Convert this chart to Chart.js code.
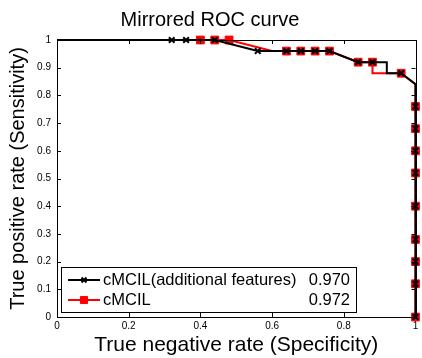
<!DOCTYPE html>
<html>
<head>
<meta charset="utf-8">
<script src="https://cdn.jsdelivr.net/npm/chart.js@4/dist/chart.umd.min.js"></script>
<style>
  html, body { margin: 0; padding: 0; background: #fff; }
  #wrap { width: 422px; height: 358px; }
</style>
</head>
<body>
<div id="wrap"><canvas id="roc"></canvas></div>
<script>
// ─── datos del ROC ───────────────────────────────────────────
const titulo = 'Mirrored ROC curve';
const ejeX = 'True negative rate (Specificity)';
const ejeY = 'True positive rate (Sensitivity)';
const xTicks = [0, 0.2, 0.4, 0.6, 0.8, 1];
const yTicks = [0, 0.1, 0.2, 0.3, 0.4, 0.5, 0.6, 0.7, 0.8, 0.9, 1];

const nombres = ['cMCIL(additional features)', 'cMCIL'];
const auc = ['0.970', '0.972'];

// curva con rasgos adicionales (negro)
const negroX = [0, 0.32, 0.36, 0.44, 0.56, 0.64, 0.68, 0.72, 0.76, 0.84, 0.88, 0.92, 0.92, 0.96, 1, 1, 1, 1, 1, 1, 1, 1, 1, 1];
const negroY = [1, 1, 1, 1, 0.96, 0.96, 0.96, 0.96, 0.96, 0.92, 0.92, 0.92, 0.88, 0.88, 0.84, 0.76, 0.68, 0.6, 0.52, 0.4, 0.28, 0.2, 0.12, 0];
const negroSinMarca = [0, 11, 12, 14]; // vértices sin marcador

// curva cMCIL (rojo)
const rojoX = [0, 0.40, 0.44, 0.48, 0.60, 0.64, 0.68, 0.72, 0.76, 0.84, 0.88, 0.88, 0.96, 1, 1, 1, 1, 1, 1, 1, 1, 1, 1];
const rojoY = [1, 1, 1, 1, 0.96, 0.96, 0.96, 0.96, 0.96, 0.92, 0.92, 0.88, 0.88, 0.84, 0.76, 0.68, 0.6, 0.52, 0.4, 0.28, 0.2, 0.12, 0];
const rojoSinMarca = [0, 4, 11, 13];

const FONT = "'Liberation Sans', Arial, sans-serif";

const pts = (xs, ys) => xs.map((x, i) => ({ x, y: ys[i] }));
const radios = (xs, sin, r) => xs.map((_, i) => sin.includes(i) ? 0 : r);

// ticks hacia adentro + caja completa (estilo MATLAB)
const cajaMatlab = {
  id: 'cajaMatlab',
  afterDatasetsDraw(chart) {
    const { ctx, chartArea: a, scales } = chart;
    ctx.save();
    ctx.strokeStyle = '#000';
    ctx.lineWidth = 1;
    ctx.beginPath();
    xTicks.forEach(v => {
      const px = Math.round(scales.x.getPixelForValue(v)) + 0.5;
      ctx.moveTo(px, a.bottom); ctx.lineTo(px, a.bottom - 4);
      ctx.moveTo(px, a.top); ctx.lineTo(px, a.top + 4);
    });
    yTicks.forEach(v => {
      const py = Math.round(scales.y.getPixelForValue(v)) + 0.5;
      ctx.moveTo(a.left, py); ctx.lineTo(a.left + 4, py);
      ctx.moveTo(a.right, py); ctx.lineTo(a.right - 4, py);
    });
    ctx.stroke();
    ctx.strokeRect(Math.round(a.left) + 0.5, Math.round(a.top) + 0.5, Math.round(a.right - a.left), Math.round(a.bottom - a.top));
    ctx.restore();
  }
};

// leyenda con el AUC alineado a la derecha
const leyenda = {
  id: 'leyenda',
  afterDraw(chart) {
    const { ctx, chartArea: a } = chart;
    const x0 = a.left + 4, y0 = 267, w = 295, h = 45;
    ctx.save();
    ctx.fillStyle = '#fff';
    ctx.fillRect(x0, y0, w, h);
    ctx.strokeStyle = '#000';
    ctx.lineWidth = 1;
    ctx.strokeRect(x0 + 0.5, y0 + 0.5, w, h);
    ctx.font = '16.5px ' + FONT;
    ctx.textBaseline = 'middle';
    chart.data.datasets.forEach((ds, i) => {
      const cy = y0 + 13 + i * 20;
      ctx.strokeStyle = ds.borderColor;
      ctx.fillStyle = ds.pointBackgroundColor;
      ctx.lineWidth = 2;
      ctx.beginPath(); ctx.moveTo(x0 + 7, cy); ctx.lineTo(x0 + 39, cy); ctx.stroke();
      ctx.lineWidth = ds.pointBorderWidth;
      Chart.helpers.drawPoint(ctx, {
        pointStyle: ds.pointStyle, radius: ds.leyendaRadio, borderWidth: ds.pointBorderWidth
      }, x0 + 23, cy);
      ctx.fillStyle = '#000';
      ctx.textAlign = 'left';
      ctx.fillText(ds.label, x0 + 42, cy);
      ctx.textAlign = 'right';
      ctx.fillText(ds.auc, x0 + w - 6, cy);
    });
    ctx.restore();
  }
};

new Chart(document.getElementById('roc'), {
  type: 'line',
  data: {
    datasets: [
      {
        label: nombres[0], auc: auc[0],
        data: pts(negroX, negroY),
        borderColor: '#000000', borderWidth: 2,
        pointStyle: 'crossRot', pointRadius: radios(negroX, negroSinMarca, 4), leyendaRadio: 3.5,
        pointBackgroundColor: '#000', pointBorderColor: '#000', pointBorderWidth: 2,
        pointHoverRadius: 0, tension: 0, clip: false
      },
      {
        label: nombres[1], auc: auc[1],
        data: pts(rojoX, rojoY),
        borderColor: '#ff0000', borderWidth: 2,
        pointStyle: 'rect', pointRadius: radios(rojoX, rojoSinMarca, 5.5), leyendaRadio: 5,
        pointBackgroundColor: '#ff0000', pointBorderColor: '#ff0000', pointBorderWidth: 1,
        pointHoverRadius: 0, tension: 0, clip: false
      }
    ]
  },
  options: {
    responsive: true,
    maintainAspectRatio: false,
    animation: false,
    events: [],
    layout: { padding: { left: 0, right: 2, top: 0, bottom: 0 } },
    plugins: {
      legend: { display: false },
      tooltip: { enabled: false },
      title: {
        display: true, text: titulo, color: '#000',
        font: { family: FONT, size: 20, weight: 'normal' },
        padding: { top: 8, bottom: 8 }
      }
    },
    scales: {
      x: {
        type: 'linear', min: 0, max: 1,
        afterBuildTicks: s => { s.ticks = xTicks.map(v => ({ value: v })); },
        afterFit: s => { s.height = 41; },
        grid: { drawOnChartArea: false, drawTicks: false },
        border: { display: true, color: '#000', width: 1 },
        ticks: { color: '#000', padding: 3, maxRotation: 0, callback: v => String(v), font: { family: FONT, size: 10 } },
        title: { display: true, text: ejeX, color: '#000', padding: { top: 2, bottom: 0 }, font: { family: FONT, size: 21 } }
      },
      y: {
        type: 'linear', min: 0, max: 1,
        afterBuildTicks: s => { s.ticks = yTicks.map(v => ({ value: v })); },
        afterFit: s => { s.width = 57; },
        grid: { drawOnChartArea: false, drawTicks: false },
        border: { display: true, color: '#000', width: 1 },
        ticks: { color: '#000', padding: 6, callback: v => String(v), font: { family: FONT, size: 10 } },
        title: { display: true, text: ejeY, color: '#000', padding: { top: 6, bottom: 0 }, font: { family: FONT, size: 20 } }
      }
    }
  },
  plugins: [cajaMatlab, leyenda]
});
</script>
</body>
</html>
